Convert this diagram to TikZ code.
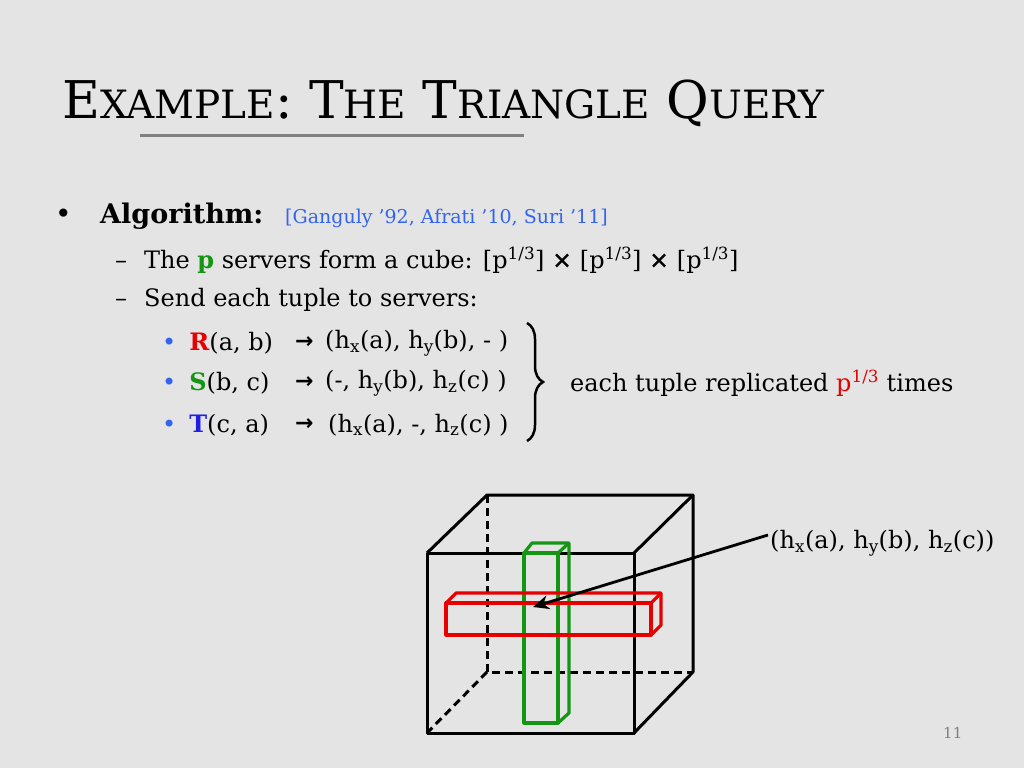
\documentclass[tikz,border=0pt]{standalone}
\usepackage{fontspec}
\setmainfont{DejaVu Serif}
\newfontfamily\symfont{DejaVu Sans}
\usetikzlibrary{decorations.pathreplacing,arrows.meta}
\definecolor{bg}{RGB}{228,228,228}
\definecolor{rcol}{RGB}{230,0,0}
\definecolor{gcol}{RGB}{20,150,20}
\definecolor{bcol}{RGB}{30,30,230}
\definecolor{ccol}{RGB}{50,100,240}
\tikzset{txt/.style={anchor=west,inner sep=0pt,font=\fontsize{24}{26}\selectfont},
  edge/.style={line width=3pt},
  hidden/.style={line width=3pt,dashed,dash pattern=on 8pt off 5pt},
  bar/.style={line width=3.2pt,line join=round}}
\newcommand{\ra}{{\symfont\bfseries\fontsize{22}{24}\selectfont →}}
\newcommand{\sm}[1]{{\fontsize{39}{42}\selectfont #1}}
\newcommand{\tsup}[1]{\textsuperscript{#1}}
\newcommand{\tsub}[1]{\textsubscript{#1}}
\begin{document}
\begin{tikzpicture}[x=1pt,y=-1pt]
\fill[bg] (0,0) rectangle (1024,768);
\useasboundingbox (0,0) rectangle (1024,768);
% title
\node[txt,font=\fontsize{52}{56}\selectfont,anchor=base west] (title) at (62,118) {E\sm{XAMPLE}: T\sm{HE} T\sm{RIANGLE} Q\sm{UERY}};
\draw[gray,line width=3pt] (140,135) -- (524,135);
% bullets
\node[txt] (b1) at (55,216) {\fontsize{28}{30}\selectfont •};
\node[txt] (alg) at (100,216) {\fontsize{27}{30}\selectfont\textbf{Algorithm:}};
\node[txt,font=\fontsize{19}{21}\selectfont,text=ccol] (cite) at (285,218) {[Ganguly ’92, Afrati ’10, Suri ’11]};
\node[txt] (d1) at (115,260) {–\hspace{17pt}The \textcolor{gcol}{\textbf{p}} servers form a cube: [p\tsup{1/3}] \textbf{×} [p\tsup{1/3}] \textbf{×} [p\tsup{1/3}]};
\node[txt] (d2) at (115,300) {–\hspace{17pt}Send each tuple to servers:};
\node[txt] (r) at (162,343) {\textcolor{ccol}{•}\hspace{13pt}\textcolor{rcol}{\textbf{R}}(a, b)};
\node[txt] (s) at (162,383) {\textcolor{ccol}{•}\hspace{13pt}\textcolor{gcol}{\textbf{S}}(b, c)};
\node[txt] (t) at (162,425) {\textcolor{ccol}{•}\hspace{13pt}\textcolor{bcol}{\textbf{T}}(c, a)};
\node[txt] (ar) at (295,343) {\ra};
\node[txt] (as) at (295,383) {\ra};
\node[txt] (at) at (295,425) {\ra};
\node[txt] (rr) at (325,343) {(h\tsub{x}(a), h\tsub{y}(b), - )};
\node[txt] (sr) at (325,383) {(-, h\tsub{y}(b), h\tsub{z}(c) )};
\node[txt] (tr) at (328,425) {(h\tsub{x}(a), -, h\tsub{z}(c) )};
\draw[line width=2.5pt,decorate,decoration={brace,amplitude=16pt}] (527,323) -- (527,441);
\node[txt] (rep) at (570,383) {each tuple replicated \textcolor{rcol}{p\tsup{1/3}} times};
% cube
\draw[hidden] (487,495) -- (487,672) -- (693,672);
\draw[hidden] (487,672) -- (427,733);
\draw[edge,line join=round] (427,553) rectangle (634,733);
\draw[edge,line join=round] (427,553) -- (487,495) -- (693,495) -- (693,672) -- (634,733);
\draw[edge] (693,495) -- (634,553);
% green bar
\draw[gcol,bar] (524,553) rectangle (558,723);
\draw[gcol,bar] (524,553) -- (532,543) -- (569,543) -- (569,713) -- (558,723);
\draw[gcol,bar] (569,543) -- (558,553);
% red bar
\draw[rcol,bar] (446,603) rectangle (651,635);
\draw[rcol,bar] (446,603) -- (456,593) -- (661,593) -- (661,625) -- (651,635);
\draw[rcol,bar] (661,593) -- (651,603);
% cell label
\node[txt] (cell) at (770,543) {(h\tsub{x}(a), h\tsub{y}(b), h\tsub{z}(c))};
\coordinate (tip) at (533,607);
\draw[line width=2.8pt,-{Stealth[length=16pt,width=14pt,open]}] (cell.west) ++(-2,-8) -- (tip);
\node[txt,font=\fontsize{15}{17}\selectfont,text=gray] (num) at (943,733) {11};
\end{tikzpicture}
\end{document}
